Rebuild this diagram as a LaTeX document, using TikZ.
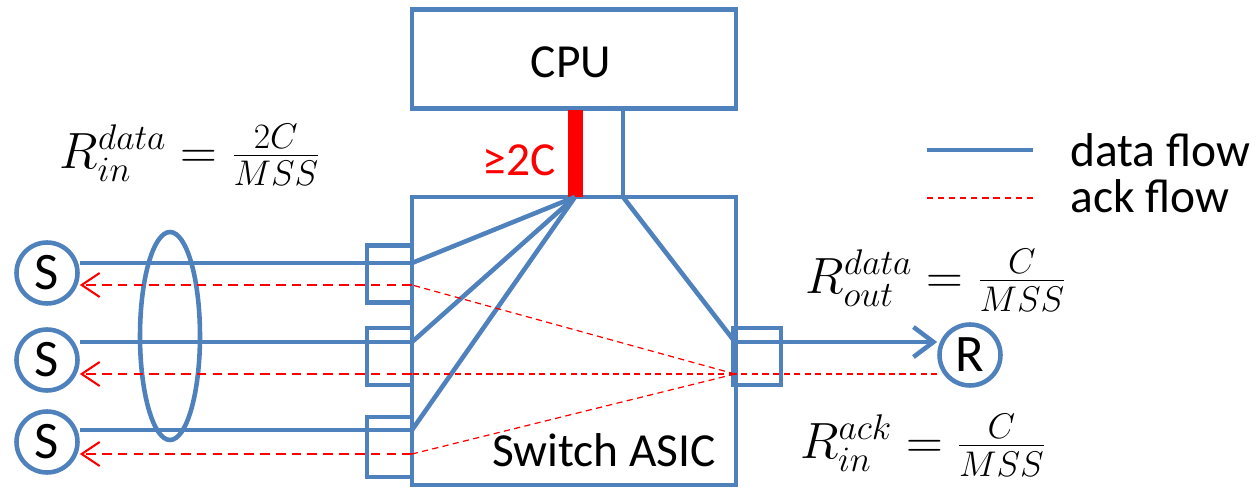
\RequirePackage{fix-cm}
\documentclass[tikz,border=0pt]{standalone}
\usepackage{fontspec}
\setmainfont{Carlito}
\usetikzlibrary{arrows.meta,shapes.geometric}
\definecolor{ppblue}{RGB}{79,129,189}
\tikzset{
  dataflow/.style={ppblue, line width=2.6pt},
  ackflow/.style={red, line width=1.2pt, dash pattern=on 5.5pt off 3.5pt},
  ackthin/.style={red, line width=0.7pt, dash pattern=on 3.5pt off 2.5pt},
  hostnode/.style={circle, draw=ppblue, line width=2.6pt, minimum size=1.22cm, inner sep=0pt,
    font=\fontsize{30}{36}\selectfont},
  portbox/.style={rectangle, draw=ppblue, line width=2.6pt, minimum width=0.9cm, minimum height=1.14cm, inner sep=0pt},
  bigbox/.style={rectangle, draw=ppblue, line width=2.6pt, inner sep=0pt},
  lbl/.style={font=\fontsize{27}{32}\selectfont, inner sep=0pt},
  eqn/.style={font=\fontsize{29}{35}\selectfont, inner sep=0pt}
}
\begin{document}
\begin{tikzpicture}[x=0.02cm, y=-0.02cm]
\useasboundingbox (0,0) rectangle (1256,489);
% boxes
\node[bigbox, minimum width=6.48cm, minimum height=1.98cm] (cpu) at (574,59) {};
\node[lbl] (cputxt) at (571,62) {CPU};
\node[bigbox, minimum width=6.48cm, minimum height=5.76cm] (asic) at (574,341) {};
\node[lbl] (asictxt) at (604,450) {Switch ASIC};
% ports
\node[portbox] (pl1) at (389.5,274) {};
\node[portbox] (pl2) at (389.5,356.5) {};
\node[portbox, minimum height=1.2cm] (pl3) at (389.5,447) {};
\node[portbox, minimum width=0.96cm] (pr) at (757,356.5) {};
% hosts
\node[hostnode] (s1) at (47,273) {S};
\node[hostnode] (s2) at (47,360) {S};
\node[hostnode] (s3) at (47,442) {S};
\node[hostnode] (r) at (970,355) {R};
\node[ellipse, draw=ppblue, line width=2.6pt, minimum width=1.2cm, minimum height=4.16cm] (grp) at (170,336) {};
% cpu links
\coordinate (bartop) at (575,110);
\coordinate (barbot) at (575,197);
\coordinate (cputop) at (623,106);
\coordinate (cpubot) at (623,197);
\draw[red, line width=0.3cm] (bartop) -- (barbot);
\node[lbl, text=red] (bw) at (519,160) {≥2C};
\draw[dataflow] (cputop) -- (cpubot);
% data flow
\coordinate (d1) at (412,263);
\coordinate (d2) at (412,342);
\coordinate (d3) at (412,430);
\coordinate (dout) at (735,342);
\foreach \i in {1,2,3} {
  \draw[dataflow] (s\i.east |- d\i) -- (d\i);
  \draw[dataflow] (barbot) -- (d\i);
}
\draw[dataflow] (cpubot) -- (dout);
\draw[dataflow, -{Straight Barb[length=0.4cm, width=0.6cm]}] (dout) -- (dout -| r.west);
% ack flow
\coordinate (hub) at (735,374);
\coordinate (a1) at (412,285);
\coordinate (a2) at (412,374);
\coordinate (a3) at (412,454);
\draw[ackthin] (r.west |- hub) -- (hub);
\foreach \i in {1,2,3} {
  \draw[ackthin] (hub) -- (a\i);
  \draw[ackflow, -{Straight Barb[length=0.36cm, width=0.48cm]}] (a\i) -- (a\i -| s\i.east);
}
% rates
\node[eqn] (rin) at (190,155) {$R_{in}^{data}=\frac{2C}{MSS}$};
\node[eqn] (rout) at (936,280) {$R_{out}^{data}=\frac{C}{MSS}$};
\node[eqn] (rack) at (923,445) {$R_{in}^{ack}=\frac{C}{MSS}$};
% legend
\coordinate (ld1) at (927,150);
\coordinate (ld2) at (1033,150);
\coordinate (la1) at (927,198);
\coordinate (la2) at (1033,198);
\draw[dataflow] (ld1) -- (ld2);
\draw[red, line width=1pt, dash pattern=on 3.5pt off 2.8pt] (la1) -- (la2);
\node[lbl, anchor=west] (ldtxt) at (1070,150) {data flow};
\node[lbl, anchor=west] (latxt) at (1070,196) {ack flow};
\end{tikzpicture}
\end{document}
